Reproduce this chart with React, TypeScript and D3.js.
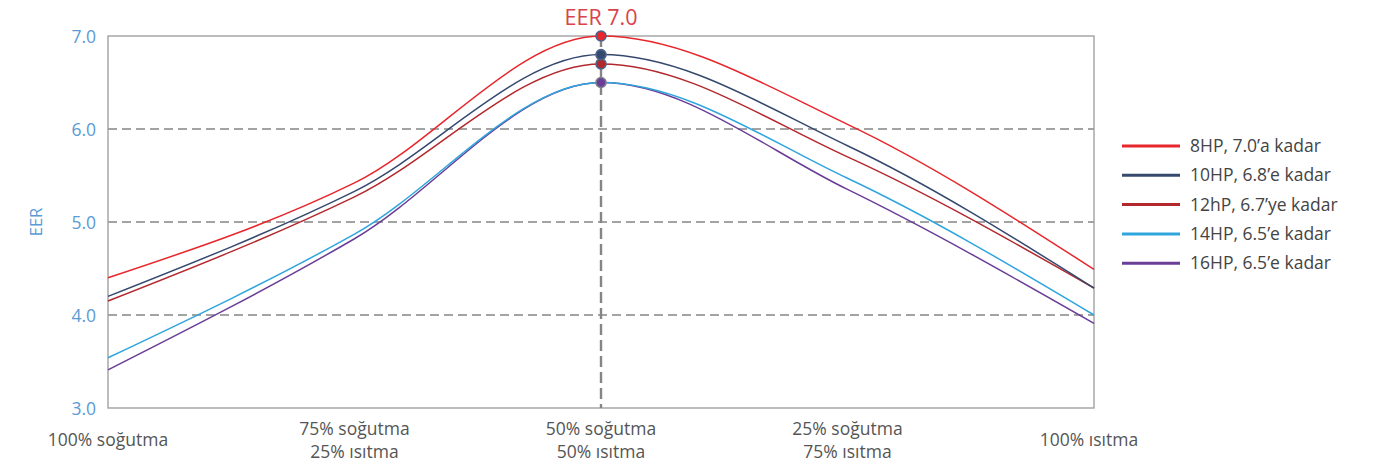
import React from "react";
import * as d3 from "d3";

// categories along the x axis (lines of each label)
const categories = [
  ["100% soğutma"],
  ["75% soğutma", "25% ısıtma"],
  ["50% soğutma", "50% ısıtma"],
  ["25% soğutma", "75% ısıtma"],
  ["100% ısıtma"],
];

const seriesNames = [
  "8HP, 7.0’a kadar",
  "10HP, 6.8’e kadar",
  "12hP, 6.7’ye kadar",
  "14HP, 6.5’e kadar",
  "16HP, 6.5’e kadar",
];
const seriesColors = ["#e8262b", "#35496e", "#b3282d", "#2fa5de", "#6a3d97"];

const hp8 = [4.4, 5.42, 7.0, 6.05, 4.49];
const hp10 = [4.2, 5.33, 6.8, 5.82, 4.29];
const hp12 = [4.15, 5.27, 6.7, 5.7, 4.29];
const hp14 = [3.54, 4.87, 6.5, 5.47, 4.0];
const hp16 = [3.41, 4.82, 6.5, 5.35, 3.91];
const seriesValues = [hp8, hp10, hp12, hp14, hp16];

const yTicks = [3, 4, 5, 6, 7];
const gridTicks = [4, 5, 6];
const title = "EER 7.0";
const yLabel = "EER";

const W = 1373;
const H = 465;
const margin = { left: 108, right: 279, top: 36, bottom: 57 };
const FONT = "'Open Sans', 'Noto Sans', sans-serif";

const App = () => {
  const x = d3
    .scalePoint<number>()
    .domain(categories.map((_, i) => i))
    .range([margin.left, W - margin.right]);
  const y = d3
    .scaleLinear()
    .domain([3, 7])
    .range([H - margin.bottom, margin.top]);

  const line = d3
    .line<number>()
    .x((_, i) => x(i) as number)
    .y((d) => y(d))
    .curve(d3.curveMonotoneX);

  const cx = x(2) as number;
  const left = margin.left;
  const right = W - margin.right;
  const top = margin.top;
  const bottom = H - margin.bottom;

  return (
    <svg
      width={W}
      height={H}
      style={{ position: "absolute", left: 0, top: 0, background: "#fff" }}
      fontFamily={FONT}
    >
      {/* grid */}
      {gridTicks.map((t) => (
        <line
          key={t}
          x1={left}
          x2={right}
          y1={y(t)}
          y2={y(t)}
          stroke="#858585"
          strokeWidth={1.3}
          strokeDasharray="9 5"
        />
      ))}
      {/* frame */}
      <rect
        x={left}
        y={top}
        width={right - left}
        height={bottom - top}
        fill="none"
        stroke="#9a9a9a"
        strokeWidth={1.3}
      />
      {/* center dashed line */}
      <line
        x1={cx}
        x2={cx}
        y1={y(7)}
        y2={bottom}
        stroke="#858585"
        strokeWidth={2.4}
        strokeDasharray="11 5"
      />

      {/* series lines (draw back to front) */}
      {[4, 3, 2, 1, 0].map((s) => (
        <path
          key={s}
          d={line(seriesValues[s]) ?? ""}
          fill="none"
          stroke={seriesColors[s]}
          strokeWidth={1.5}
        />
      ))}

      {/* peak markers */}
      {[4, 2, 1, 0].map((s) => (
        <circle
          key={s}
          cx={cx}
          cy={y(seriesValues[s][2])}
          r={5}
          fill={seriesColors[s]}
          stroke={s === 4 ? "#7d7d8c" : "#4d6289"}
          strokeWidth={1.6}
        />
      ))}

      {/* title */}
      <text x={cx} y={25} textAnchor="middle" fill="#d8434c" fontSize={21.5}>
        {title}
      </text>

      {/* y ticks */}
      {yTicks.map((t) => (
        <text
          key={t}
          x={left - 12}
          y={y(t) + 6.5}
          textAnchor="end"
          fill="#5b9bd5"
          fontSize={17.5}
        >
          {t.toFixed(1)}
        </text>
      ))}
      <text
        transform={`translate(42,${y(5)}) rotate(-90)`}
        textAnchor="middle"
        fill="#5b9bd5"
        fontSize={16.5}
      >
        {yLabel}
      </text>

      {/* x labels */}
      {categories.map((lines, i) => {
        const lx = (x(i) as number) + (i === 4 ? -5 : 0);
        return (
          <text key={i} textAnchor="middle" fill="#555" fontSize={17.5}>
            {lines.map((l, j) => (
              <tspan key={j} x={lx} y={lines.length === 1 ? 446 : 435 + j * 23}>
                {l}
              </tspan>
            ))}
          </text>
        );
      })}

      {/* legend */}
      {seriesNames.map((n, i) => (
        <g key={n} transform={`translate(1122,${146 + i * 29.3})`}>
          <line x1={0} x2={58} y1={0} y2={0} stroke={seriesColors[i]} strokeWidth={3} />
          <text x={68} y={6} fill="#444" fontSize={17.5}>
            {n}
          </text>
        </g>
      ))}
    </svg>
  );
};

export default App;
